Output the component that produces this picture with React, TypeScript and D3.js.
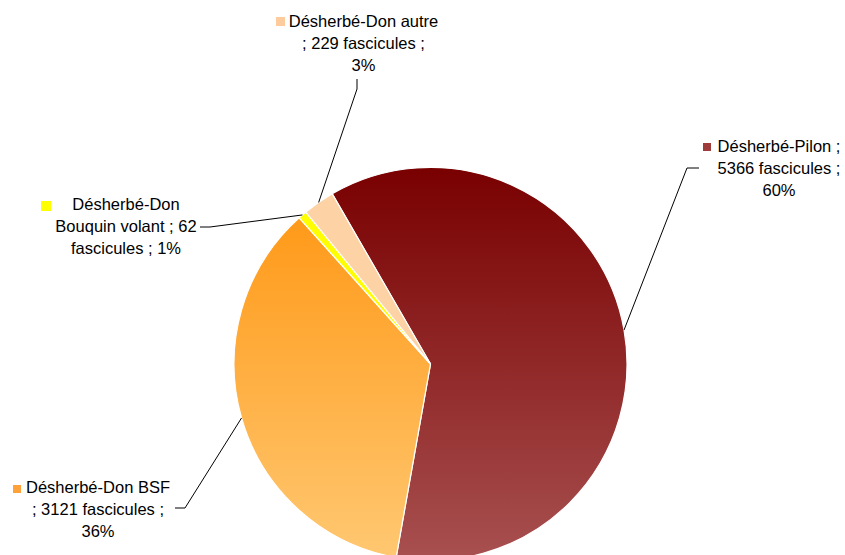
import React from "react";
import * as d3 from "d3";

const categories = ["Désherbé-Pilon", "Désherbé-Don BSF", "Désherbé-Don Bouquin volant", "Désherbé-Don autre"];
const values = [5366, 3121, 62, 229];
const percentLabels = ["60%", "36%", "1%", "3%"];
const labelLines = [
  ["Désherbé-Pilon ;", "5366 fascicules ;", "60%"],
  ["Désherbé-Don BSF", "; 3121 fascicules ;", "36%"],
  ["Désherbé-Don", "Bouquin volant ; 62", "fascicules ; 1%"],
  ["Désherbé-Don autre", "; 229 fascicules ;", "3%"],
];

const W = 845;
const H = 555;
const cx = 430.5;
const cy = 364;
const R = 196.5;

// label layout: text center x, first baseline y, key x, key y, key size, elbow points
const layout = [
  { tx: 779, ty: 152, kx: 703, ky: 143, ks: 8, elbow: [[699, 168], [687, 168]] },
  { tx: 98, ty: 493, kx: 13, ky: 485, ks: 8, elbow: [[175, 508], [185, 508]] },
  { tx: 126, ty: 210, kx: 41, ky: 201, ks: 10, elbow: [[200, 227], [210, 227]] },
  { tx: 363.5, ty: 27, kx: 276, ky: 17, ks: 9, elbow: [[357, 79], [357, 89]] },
];

const fills = ["url(#gPilon)", "url(#gBSF)", "#ffff00", "#fdd3a6"];
const keyFills = ["#9e3b3b", "#ffa23a", "#ffff00", "#fdcb9c"];

export default function App() {
  const pie = d3
    .pie<number>()
    .sort(null)
    .value((d) => d)
    .startAngle((-30 * Math.PI) / 180)
    .endAngle((330 * Math.PI) / 180);
  const arcs = pie(values);
  const arc = d3.arc<d3.PieArcDatum<number>>().innerRadius(0).outerRadius(R);

  return (
    <svg
      width={W}
      height={H}
      style={{ position: "fixed", left: 0, top: 0, background: "#fff" }}
      fontFamily="'Liberation Sans', Arial, sans-serif"
      fontSize={16.5}
    >
      <defs>
        <linearGradient id="gPilon" gradientUnits="userSpaceOnUse" x1={0} y1={-R} x2={0} y2={R}>
          <stop offset="0" stopColor="#790000" />
          <stop offset="1" stopColor="#a85050" />
        </linearGradient>
        <linearGradient id="gBSF" gradientUnits="userSpaceOnUse" x1={0} y1={-R} x2={0} y2={R}>
          <stop offset="0" stopColor="#ff930c" />
          <stop offset="1" stopColor="#ffc872" />
        </linearGradient>
      </defs>
      <g transform={`translate(${cx},${cy})`}>
        {arcs.map((a, i) => (
          <path key={categories[i]} d={arc(a) || ""} fill={fills[i]} stroke="#fff" strokeWidth={1.2} />
        ))}
      </g>
      {arcs.map((a, i) => {
        const mid = (a.startAngle + a.endAngle) / 2;
        const px = cx + Math.sin(mid) * R;
        const py = cy - Math.cos(mid) * R;
        const L = layout[i];
        const pts = [...L.elbow, [px, py]];
        return (
          <g key={"l" + i}>
            <polyline
              points={pts.map((p) => p.join(",")).join(" ")}
              fill="none"
              stroke="#000"
              strokeWidth={1}
            />
            <rect x={L.kx} y={L.ky} width={L.ks} height={L.ks} fill={keyFills[i]} />
            <text textAnchor="middle" fill="#000">
              {labelLines[i].map((line, j) => (
                <tspan key={j} x={L.tx} y={L.ty + j * 22}>
                  {line}
                </tspan>
              ))}
            </text>
          </g>
        );
      })}
    </svg>
  );
}
